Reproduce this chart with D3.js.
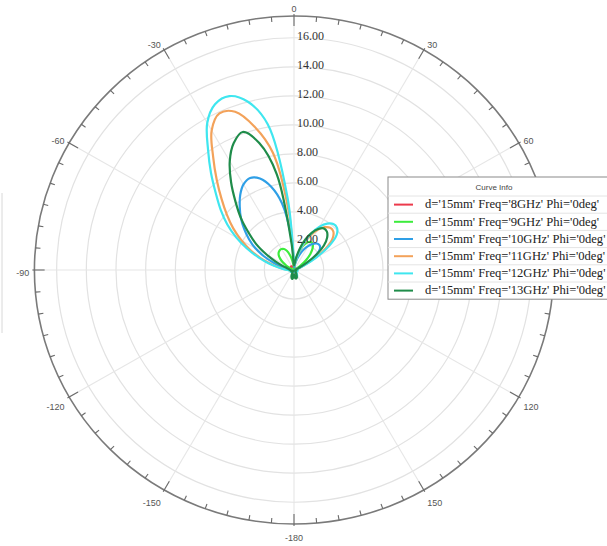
<!DOCTYPE html>
<html><head><meta charset="utf-8">
<script src="https://cdn.jsdelivr.net/npm/d3@7"></script>
<style>body{margin:0;background:#fff}svg{display:block}</style>
</head><body><svg id="c" width="607" height="546"></svg>
<script>
// Sample angles in degrees (0 = up, clockwise positive)
const thetaDeg = [
  -180,-175,-170,-165,-160,-155,-150,-145,-140,-135,-130,-125,
  -120,-115,-110,-105,-100,-95,-90,-85,-80,-75,-70,-65,
  -60,-55,-50,-45,-40,-35,-30,-25,-20,-15,-10,-5,
  0,5,10,15,20,25,30,35,40,45,50,55,
  60,65,70,75,80,85,90,95,100,105,110,115,
  120,125,130,135,140,145,150,155,160,165,170,175
];
const freqLabels = ["8GHz","9GHz","10GHz","11GHz","12GHz","13GHz"];
const gain8 = [
  0.12,0.13,0.13,0.12,0.11,0.10,0.09,0.08,0.08,0.08,0.09,0.10,
  0.11,0.12,0.13,0.14,0.15,0.16,0.17,0.18,0.19,0.20,0.21,0.22,
  0.24,0.26,0.28,0.30,0.31,0.31,0.30,0.28,0.25,0.20,0.14,0.08,
  0.05,0.06,0.08,0.10,0.12,0.13,0.14,0.14,0.13,0.12,0.10,0.08,
  0.07,0.06,0.06,0.06,0.06,0.06,0.07,0.07,0.08,0.08,0.08,0.08,
  0.08,0.08,0.08,0.09,0.09,0.10,0.10,0.11,0.11,0.12,0.12,0.12
];
const gain9 = [
  0.20,0.22,0.22,0.20,0.17,0.13,0.10,0.08,0.07,0.08,0.09,0.10,
  0.10,0.10,0.10,0.09,0.09,0.10,0.10,0.10,0.10,0.10,0.15,0.30,
  0.58,0.92,1.22,1.46,1.60,1.67,1.67,1.60,1.41,1.07,0.68,0.30,
  0.10,0.34,0.78,1.26,1.75,2.09,2.24,2.19,1.95,1.56,1.07,0.58,
  0.25,0.10,0.08,0.07,0.07,0.07,0.08,0.08,0.08,0.08,0.08,0.08,
  0.08,0.08,0.09,0.10,0.11,0.12,0.14,0.16,0.18,0.19,0.20,0.20
];
const gain10 = [
  0.25,0.30,0.32,0.30,0.25,0.18,0.12,0.08,0.07,0.08,0.10,0.12,
  0.14,0.15,0.15,0.15,0.17,0.22,0.28,0.36,0.49,0.88,1.46,2.24,
  3.02,3.70,4.38,5.06,5.69,6.32,6.81,7.00,6.71,5.94,4.67,2.43,
  0.40,0.20,0.40,0.78,1.17,1.56,1.90,2.19,2.38,2.43,2.29,1.85,
  1.17,0.58,0.25,0.14,0.10,0.10,0.12,0.14,0.15,0.15,0.14,0.12,
  0.10,0.10,0.10,0.12,0.14,0.16,0.18,0.20,0.22,0.24,0.25,0.25
];
const gain11 = [
  0.30,0.40,0.45,0.45,0.38,0.28,0.18,0.12,0.10,0.12,0.16,0.20,
  0.22,0.22,0.20,0.18,0.20,0.28,0.40,0.63,1.00,1.60,2.40,3.25,
  4.10,5.00,5.90,6.90,8.10,9.50,11.10,11.90,11.60,10.20,8.20,4.00,
  0.50,0.30,0.55,1.17,1.90,2.63,3.20,3.60,3.80,3.75,3.40,2.63,
  1.56,0.68,0.30,0.18,0.14,0.14,0.18,0.20,0.22,0.22,0.20,0.16,
  0.14,0.14,0.16,0.20,0.25,0.32,0.38,0.42,0.44,0.42,0.38,0.34
];
const gain12 = [
  0.35,0.45,0.50,0.50,0.40,0.30,0.20,0.12,0.10,0.12,0.18,0.22,
  0.25,0.25,0.22,0.20,0.22,0.30,0.45,0.70,1.10,1.75,2.55,3.50,
  4.50,5.50,6.45,7.45,8.70,10.10,11.70,12.60,12.75,12.00,10.20,5.00,
  0.60,0.30,0.60,1.25,2.05,2.80,3.45,3.90,4.13,4.10,3.75,2.90,
  1.75,0.80,0.35,0.20,0.15,0.15,0.20,0.22,0.25,0.25,0.22,0.18,
  0.15,0.15,0.18,0.22,0.28,0.35,0.42,0.48,0.50,0.48,0.42,0.38
];
const gain13 = [
  0.30,0.50,0.62,0.60,0.50,0.35,0.22,0.12,0.08,0.10,0.14,0.18,
  0.20,0.20,0.18,0.16,0.18,0.22,0.26,0.30,0.38,0.48,0.78,1.36,
  2.14,3.11,3.99,5.06,6.13,7.40,8.66,9.63,10.12,9.05,6.71,1.75,
  0.30,0.40,0.88,1.56,2.24,2.82,3.26,3.50,3.45,3.16,2.63,1.85,
  0.97,0.40,0.20,0.12,0.10,0.10,0.12,0.14,0.16,0.16,0.14,0.12,
  0.10,0.10,0.12,0.15,0.18,0.22,0.30,0.42,0.55,0.60,0.58,0.45
];
const seriesColors = ["#ec3a4c","#3cec3c","#2f9fe6","#f3a25a","#3fe6ef","#1f8c4a"];
const ringValues = [2,4,6,8,10,12,14,16];
const ringLabels = ["2.00","4.00","6.00","8.00","10.00","12.00","14.00","16.00"];
// spokes every 30 degrees; the 90 label sits under the legend box
const spokeAngles = [0,30,60,90,120,150,180,-150,-120,-90,-60,-30];
const angleTicks = [0,30,60,120,150,180,-150,-120,-90,-60,-30];
const angleTickLabels = ["0","30","60","120","150","-180","-150","-120","-90","-60","-30"];

const series = [gain8,gain9,gain10,gain11,gain12,gain13].map((g,i)=>({
  name: freqLabels[i], color: seriesColors[i],
  pts: thetaDeg.map((t,j)=>({t, v:g[j]}))
}));

const svg = d3.select("#c");
const cx = 294, cy = 270, R = 254, sx = 1.022;
const rMax = 17.5;
const r = d3.scaleLinear().domain([0, rMax]).range([0, R]);
const rad = d => d * Math.PI / 180;

// faint edge line at the left border
svg.append("line").attr("x1",2).attr("x2",2).attr("y1",193).attr("y2",333)
  .attr("stroke","#d8d8d8").attr("stroke-width",1);

const plot = svg.append("g").attr("transform",`translate(${cx},${cy}) scale(${sx},1)`);

// grid rings
plot.selectAll("circle.ring").data(ringValues).join("circle")
  .attr("r", d => r(d)).attr("fill","none")
  .attr("stroke","#e2e2e2").attr("stroke-width",1.2)
  .attr("vector-effect","non-scaling-stroke");

// spokes
plot.selectAll("line.spoke").data(spokeAngles).join("line")
  .attr("x1",0).attr("y1",0)
  .attr("x2", d => R*Math.sin(rad(d))).attr("y2", d => -R*Math.cos(rad(d)))
  .attr("stroke","#e6e6e6").attr("stroke-width",1.1)
  .attr("vector-effect","non-scaling-stroke");

// outer axis circle
plot.append("circle").attr("r",R).attr("fill","none")
  .attr("stroke","#7a7a7a").attr("stroke-width",1.6)
  .attr("vector-effect","non-scaling-stroke");

// tick marks every 5 degrees
plot.selectAll("line.tick").data(thetaDeg).join("line")
  .attr("x1", d => (R+(d%30===0?2:0))*Math.sin(rad(d)))
  .attr("y1", d => -(R+(d%30===0?2:0))*Math.cos(rad(d)))
  .attr("x2", d => (R-(d%30===0?10:5))*Math.sin(rad(d)))
  .attr("y2", d => -(R-(d%30===0?10:5))*Math.cos(rad(d)))
  .attr("stroke","#6a6a6a").attr("stroke-width",1.1)
  .attr("vector-effect","non-scaling-stroke");

// pattern curves
const line = d3.lineRadial()
  .angle(d => rad(d.t)).radius(d => r(d.v))
  .curve(d3.curveCatmullRomClosed.alpha(0.5));
plot.selectAll("path.curve").data(series).join("path")
  .attr("d", d => line(d.pts)).attr("fill","none")
  .attr("stroke", d => d.color).attr("stroke-width",2.2)
  .attr("stroke-linejoin","round")
  .attr("vector-effect","non-scaling-stroke");

// radial value labels along the 0 degree spoke
svg.selectAll("text.rl").data(ringValues).join("text")
  .attr("x", cx+3).attr("y", (d)=> cy - r(d) - 1)
  .attr("dominant-baseline","middle")
  .attr("font-family","'Liberation Serif', 'Times New Roman', serif")
  .attr("font-size",12).attr("fill","#333")
  .text((d,i)=>ringLabels[i]);

// angle labels just outside the tick ends
const lr = R + 3;
svg.selectAll("text.al").data(angleTicks).join("text")
  .attr("x", d => {
    const s = Math.sin(rad(d));
    return cx + sx*lr*s + (s < -0.1 ? -2 : s > 0.1 ? 2 : 0);
  })
  .attr("y", d => {
    const c = Math.cos(rad(d));
    return cy - lr*c + 3.5 - 6.5*c + (c < -0.1 ? 2 : 0);
  })
  .attr("text-anchor", d => {
    const s = Math.sin(rad(d));
    return s < -0.1 ? "end" : s > 0.1 ? "start" : "middle";
  })
  .attr("dominant-baseline","middle")
  .attr("font-family","'Liberation Sans', Arial, sans-serif")
  .attr("font-size",9).attr("fill","#555")
  .text((d,i)=>angleTickLabels[i]);

// legend
const lg = svg.append("g");
const lx = 388, ly = 177, lw = 240, titleH = 19, rowH = 17.2;
lg.append("rect").attr("x",lx).attr("y",ly).attr("width",lw)
  .attr("height", titleH + rowH*series.length)
  .attr("fill","#fff").attr("stroke","#8a8a8a").attr("stroke-width",1);
lg.append("text").attr("x", 494).attr("y", ly+titleH/2+1)
  .attr("text-anchor","middle").attr("dominant-baseline","middle")
  .attr("font-family","'Liberation Sans', Arial, sans-serif")
  .attr("font-size",8).attr("fill","#444").text("Curve Info");
lg.selectAll("line.sep").data(d3.range(series.length)).join("line")
  .attr("x1",lx).attr("x2",lx+lw)
  .attr("y1", i => ly+titleH+rowH*i).attr("y2", i => ly+titleH+rowH*i)
  .attr("stroke","#e4e4e4");
const rows = lg.selectAll("g.row").data(series).join("g")
  .attr("transform",(d,i)=>`translate(${lx},${ly+titleH+rowH*i+rowH/2})`);
rows.append("line").attr("x1",6).attr("x2",25).attr("y1",0).attr("y2",0)
  .attr("stroke", d=>d.color).attr("stroke-width",2);
rows.append("text").attr("x",37).attr("y",1).attr("dominant-baseline","middle")
  .attr("font-family","'Liberation Serif', 'Times New Roman', serif")
  .attr("font-size",12.6).attr("fill","#222")
  .text(d => `d='15mm' Freq='${d.name}' Phi='0deg'`);
</script></body></html>
